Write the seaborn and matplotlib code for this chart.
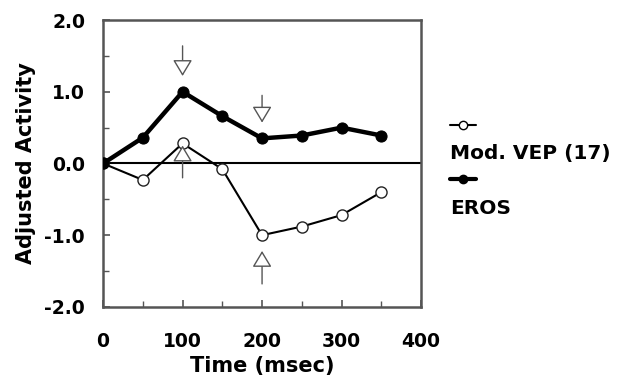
import pandas as pd
import seaborn as sns
import matplotlib.pyplot as plt
from matplotlib.lines import Line2D
from matplotlib.ticker import MultipleLocator

# values
time_ms = [0, 50, 100, 150, 200, 250, 300, 350]
eros = [0.0, 0.36, 1.0, 0.66, 0.35, 0.39, 0.50, 0.39]
mod_vep = [0.0, -0.23, 0.28, -0.08, -1.0, -0.88, -0.72, -0.40]

# arrows: (x, tail y, tip y)
arrows_down = [(100, 1.64, 1.22), (200, 0.95, 0.57)]
arrows_up = [(100, -0.2, 0.25), (200, -1.68, -1.22)]

sns.set_style("ticks")
plt.rcParams['font.family'] = ['DejaVu Sans']
plt.rcParams['font.weight'] = 'bold'
plt.rcParams['text.color'] = 'black'
plt.rcParams['axes.labelcolor'] = 'black'

df = pd.DataFrame({'time': time_ms, 'EROS': eros, 'Mod. VEP (17)': mod_vep})

fig = plt.figure(figsize=(6.21, 3.86), dpi=100)
ax = fig.add_axes([0.166, 0.205, 0.512, 0.743])

ax.axhline(0, color='black', lw=1.5, zorder=1)

sns.lineplot(data=df, x='time', y='Mod. VEP (17)', ax=ax, color='black', lw=1.5,
             marker='o', markersize=8, markerfacecolor='white',
             markeredgecolor='#222222', markeredgewidth=1.0, zorder=3)
sns.lineplot(data=df, x='time', y='EROS', ax=ax, color='black', lw=3.2,
             marker='o', markersize=8, markerfacecolor='black',
             markeredgecolor='black', zorder=4)

for x, y0, y1 in arrows_down + arrows_up:
    ax.annotate('', xy=(x, y1), xytext=(x, y0),
                arrowprops=dict(arrowstyle='-|>,head_length=1.0,head_width=0.6',
                                facecolor='white', edgecolor='#555555', lw=1.0,
                                shrinkA=0, shrinkB=0),
                zorder=5)

ax.set_xlim(0, 400)
ax.set_ylim(-2, 2)
ax.xaxis.set_minor_locator(MultipleLocator(50))
ax.yaxis.set_minor_locator(MultipleLocator(0.5))
ax.set_xticks([0, 100, 200, 300, 400])
ax.set_xticklabels(['0', '100', '200', '300', '400'])
ax.set_yticks([-2, -1, 0, 1, 2])
ax.set_yticklabels(['-2.0', '-1.0', '0.0', '1.0', '2.0'])
ax.tick_params(which='both', direction='in', color='#555555', labelcolor='black')
ax.tick_params(which='major', length=5, width=1.2, labelsize=13.5)
ax.tick_params(which='minor', length=4, width=1.0)
ax.tick_params(axis='x', which='major', pad=18)
ax.tick_params(axis='y', which='major', pad=13)
for lab in ax.get_xticklabels() + ax.get_yticklabels():
    lab.set_fontweight('bold')
for s in ax.spines.values():
    s.set_linewidth(1.8)
    s.set_color('#555555')

ax.set_xlabel('Time (msec)', fontsize=15, fontweight='bold', labelpad=4)
ax.set_ylabel('Adjusted Activity', fontsize=15, fontweight='bold', labelpad=6)

# legend: marker sample on its own row above each label
blank = Line2D([], [], color='none')
h_vep = Line2D([], [], color='black', lw=1.5, marker='o', markersize=6,
               markerfacecolor='white', markeredgecolor='black')
h_eros = Line2D([], [], color='black', lw=3, marker='o', markersize=6,
                markerfacecolor='black')
leg = fig.legend([h_vep, blank, h_eros, blank],
                 ['', 'Mod. VEP (17)', '', 'EROS'],
                 loc='upper left', bbox_to_anchor=(0.695, 0.745),
                 frameon=False, handlelength=1.3, handletextpad=-1.3,
                 labelspacing=0.42, prop={'size': 14.5, 'weight': 'bold'})

fig.savefig('out.png', dpi=100)
